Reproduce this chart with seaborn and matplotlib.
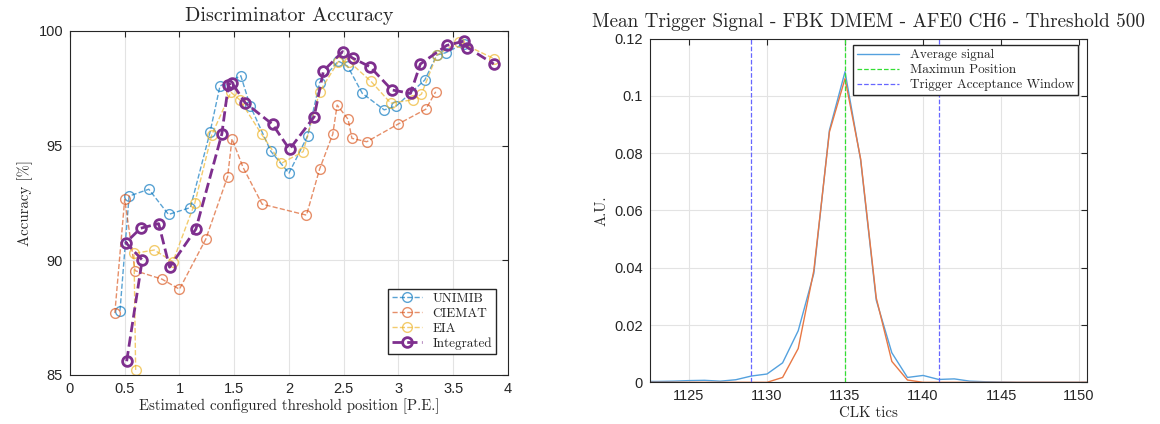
import matplotlib
matplotlib.use("Agg")
import matplotlib.pyplot as plt
import seaborn as sns
import numpy as np
from matplotlib.ticker import FormatStrFormatter

# --- left panel: discriminator accuracy vs threshold position ---
unimib_x = [0.457, 0.54, 0.72, 0.90, 1.10, 1.28, 1.37, 1.56, 1.645, 1.835, 2.00, 2.17, 2.28,
            2.45, 2.535, 2.67, 2.87, 2.98, 3.24, 3.35, 3.43, 3.60]
unimib_y = [87.8, 92.8, 93.1, 92.0, 92.3, 95.6, 97.6, 98.05, 96.75, 94.75, 93.8, 95.42, 97.75,
            98.69, 98.47, 97.28, 96.56, 96.73, 97.86, 98.95, 99.05, 99.45]

ciemat_x = [0.41, 0.50, 0.594, 0.84, 1.00, 1.24, 1.44, 1.48, 1.58, 1.755, 2.16, 2.28,
            2.40, 2.44, 2.54, 2.575, 2.71, 3.00, 3.25, 3.34]
ciemat_y = [87.7, 92.66, 89.55, 89.18, 88.74, 90.92, 93.65, 95.3, 94.06, 92.45, 91.97, 93.98,
            95.5, 96.77, 96.15, 95.32, 95.17, 95.95, 96.59, 97.35]

eia_x = [0.60, 0.585, 0.77, 0.94, 1.14, 1.295, 1.47, 1.55, 1.75, 1.93, 2.13, 2.28,
         2.45, 2.55, 2.75, 2.93, 3.13, 3.21, 3.35, 3.55, 3.87]
eia_y = [85.22, 90.3, 90.45, 89.94, 92.49, 95.47, 97.33, 97.0, 95.5, 94.23, 94.74, 97.35,
         98.66, 98.66, 97.8, 96.85, 97.0, 97.25, 98.95, 99.53, 98.8]

integ_x = [0.518, 0.66, 0.51, 0.646, 0.81, 0.91, 1.15, 1.387, 1.447, 1.478, 1.60, 1.85, 2.005,
           2.23, 2.315, 2.49, 2.585, 2.74, 2.94, 3.11, 3.20, 3.44, 3.60, 3.63, 3.87]
integ_y = [85.6, 90.02, 90.77, 91.4, 91.6, 89.7, 91.36, 95.51, 97.65, 97.75, 96.87, 95.93, 94.84,
           96.26, 98.26, 99.1, 98.81, 98.44, 97.43, 97.28, 98.56, 99.37, 99.56, 99.28, 98.56]

# --- right panel: mean trigger signal ---
clk_tics = list(range(1122, 1152))
avg_signal = [0.0003, 0.0003, 0.0004, 0.0006, 0.0007, 0.0004, 0.0009, 0.0022, 0.0029, 0.0068,
              0.018, 0.038, 0.088, 0.1084, 0.0776, 0.0287, 0.0103, 0.0017, 0.0024, 0.0010,
              0.0012, 0.0004, 0.0002, 0.0001, 0.0, 0.0, 0.0, 0.0, 0.0, 0.0]
other_signal = [0.0, 0.0, 0.0, 0.0, 0.0, 0.0, 0.0, 0.0, 0.0, 0.0017,
                0.0118, 0.039, 0.0874, 0.106, 0.078, 0.0295, 0.0073, 0.0008, 0.0, 0.0,
                0.0, 0.0, 0.0, 0.0, 0.0, 0.0, 0.0, 0.0, 0.0, 0.0]
max_position = 1135
window = [1129, 1141]

sns.set_style("white")
plt.rcParams['font.family'] = ['Liberation Sans', 'DejaVu Sans']

serif = 'cmr10'
c_blue = (0.0, 0.447, 0.741)
c_orange = (0.85, 0.325, 0.098)
c_yellow = (0.929, 0.694, 0.125)
c_purple = (0.494, 0.184, 0.556)

fig = plt.figure(figsize=(11.6, 4.24), dpi=100)
ax1 = fig.add_axes([0.0603, 0.1156, 0.3776, 0.8113])
ax2 = fig.add_axes([0.5603, 0.0983, 0.3767, 0.8108])

series = [
    (unimib_x, unimib_y, 'UNIMIB', c_blue, 1.0, 0.65),
    (ciemat_x, ciemat_y, 'CIEMAT', c_orange, 1.0, 0.65),
    (eia_x, eia_y, 'EIA', c_yellow, 1.0, 0.65),
    (integ_x, integ_y, 'Integrated', c_purple, 2.0, 1.0),
]
for xs, ys, lab, col, lw, a in series:
    sns.lineplot(x=xs, y=ys, ax=ax1, sort=False, estimator=None, color=col, lw=lw, alpha=a,
                 linestyle='--', marker='o', markersize=7, markerfacecolor='none',
                 markeredgecolor=col, markeredgewidth=lw, label=lab)

ax1.set_xlim(0, 4)
ax1.set_ylim(85, 100)
ax1.set_xticks(np.arange(0, 4.01, 0.5))
ax1.set_yticks([85, 90, 95, 100])
ax1.xaxis.set_major_formatter(FormatStrFormatter('%g'))
ax1.set_title('Discriminator Accuracy', fontfamily=serif, fontsize=14.5, pad=7)
ax1.set_xlabel('Estimated configured threshold position [P.E.]', fontfamily=serif, fontsize=10.7, labelpad=2)
ax1.set_ylabel('Accuracy [%]', fontfamily=serif, fontsize=10.7, labelpad=4)
ax1.legend(loc='lower right', prop={'family': serif, 'size': 9.5}, frameon=True, fancybox=False,
           edgecolor='#262626', framealpha=1, handlelength=2.3, borderpad=0.3, labelspacing=0.2,
           borderaxespad=0, bbox_to_anchor=(0.973, 0.061))

sns.lineplot(x=clk_tics, y=avg_signal, ax=ax2, estimator=None, color=(0.33, 0.63, 0.87), lw=1.0,
             label='Average signal')
sns.lineplot(x=clk_tics, y=other_signal, ax=ax2, estimator=None, color=(0.91, 0.47, 0.27), lw=1.0,
             label='_nolegend_')
ax2.axvline(max_position, color=(0.2, 0.87, 0.2), lw=0.9, ls='--', label='Maximun Position')
ax2.axvline(window[0], color=(0.4, 0.4, 1.0), lw=0.9, ls='--', label='Trigger Acceptance Window')
ax2.axvline(window[1], color=(0.4, 0.4, 1.0), lw=0.9, ls='--', label='_nolegend_')

ax2.set_xlim(1122.5, 1150.5)
ax2.set_ylim(0, 0.12)
ax2.set_xticks([1125, 1130, 1135, 1140, 1145, 1150])
ax2.set_yticks(np.arange(0, 0.121, 0.02))
ax2.yaxis.set_major_formatter(FormatStrFormatter('%g'))
ax2.set_title('Mean Trigger Signal - FBK DMEM - AFE0 CH6 - Threshold 500', fontfamily=serif,
              fontsize=13.8, pad=8)
ax2.set_xlabel('CLK tics', fontfamily=serif, fontsize=10.7, labelpad=2)
ax2.set_ylabel('A.U.', fontfamily=serif, fontsize=10.7, labelpad=4)
ax2.legend(loc='upper right', prop={'family': serif, 'size': 9.5}, frameon=True, fancybox=False,
           edgecolor='#262626', framealpha=1, handlelength=3.2, borderpad=0.3, labelspacing=0.2,
           borderaxespad=0, bbox_to_anchor=(0.979, 0.981))

for ax in (ax1, ax2):
    ax.grid(True, color='#e3e3e3', lw=0.8)
    ax.set_axisbelow(True)
    for s in ax.spines.values():
        s.set_visible(True)
        s.set_color('#262626')
        s.set_linewidth(0.8)
    ax.tick_params(direction='in', length=4, width=0.8, top=True, right=True, labelsize=10.5,
                   colors='#262626', labelcolor='#262626', pad=5)

fig.savefig('out.png', dpi=100)
